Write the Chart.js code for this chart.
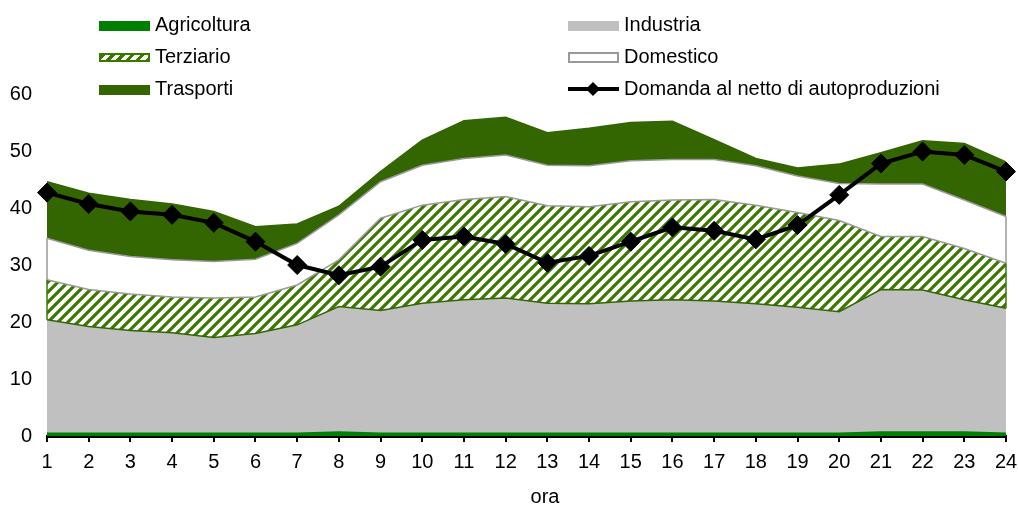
<!DOCTYPE html>
<html>
<head>
<meta charset="utf-8">
<script src="https://cdn.jsdelivr.net/npm/chart.js@4"></script>
<style>
  body { margin: 0; background: #fff; }
  #wrap { position: relative; width: 1018px; height: 506px; }
  #chart { position: absolute; left: 0; top: 0; }
  .leg { position: absolute; height: 20px; display: flex; align-items: center;
         font-family: "Liberation Sans", Arial, sans-serif; font-size: 20px; color: #000; white-space: nowrap; }
  .sw { width: 51px; height: 10px; margin-top: 3px; box-sizing: border-box; position: relative; }
  .leg span { margin-left: 5px; line-height: 20px; }
  #xtitle { position: absolute; left: 505px; width: 80px; top: 486px; text-align: center;
            font-family: "Liberation Sans", Arial, sans-serif; font-size: 20px; line-height: 20px; }
</style>
</head>
<body>
<div id="wrap">
  <canvas id="chart" width="1018" height="506"></canvas>
  <div id="legend"></div>
  <div id="xtitle">ora</div>
</div>
<script>
// hours of the day
const hours = ["1","2","3","4","5","6","7","8","9","10","11","12","13","14","15","16","17","18","19","20","21","22","23","24"];

// consumption by sector (stacked)
const agricoltura = [0.5,0.5,0.5,0.5,0.5,0.5,0.5,0.7,0.5,0.5,0.5,0.5,0.5,0.5,0.5,0.5,0.5,0.5,0.5,0.5,0.7,0.7,0.7,0.5];
const industria = [19.9,18.7,18.0,17.6,16.8,17.5,19.0,22.0,21.5,22.8,23.4,23.7,22.8,22.7,23.2,23.4,23.2,22.7,22.1,21.3,25.0,24.9,23.2,21.9];
const terziario = [7.0,6.5,6.4,6.3,6.9,6.4,7.0,8.2,16.2,17.2,17.6,17.8,17.1,17.0,17.4,17.5,17.8,17.3,16.6,16.0,9.3,9.4,9.0,7.9];
const domestico = [7.3,6.9,6.6,6.5,6.4,6.6,7.3,7.9,6.4,7.0,7.2,7.3,7.1,7.2,7.2,7.1,7.0,6.9,6.4,6.5,9.2,9.2,8.5,8.2];
const trasporti = [9.9,10.0,10.0,9.8,8.8,5.7,3.4,1.5,1.8,4.4,6.6,6.6,5.7,6.6,6.7,6.7,3.5,1.3,1.4,3.4,5.5,7.6,9.9,9.6];

// net demand line
const domanda = [42.7,40.7,39.4,38.8,37.4,34.1,30.0,28.2,29.7,34.4,35.0,33.7,30.4,31.6,34.1,36.6,36.0,34.5,37.0,42.3,47.8,49.9,49.3,46.4];

const yTicks = [0, 10, 20, 30, 40, 50, 60];

const GREEN = "#008000";
const DARK = "#336600";
const HATCH = "#3c7800";

// diagonal stripes for Terziario
function makeHatch() {
  const s = 10;
  const c = document.createElement("canvas");
  c.width = s; c.height = s;
  const g = c.getContext("2d");
  g.fillStyle = "#fff";
  g.fillRect(0, 0, s, s);
  g.strokeStyle = HATCH;
  g.lineWidth = 3.2;
  g.beginPath();
  g.moveTo(0, s); g.lineTo(s, 0);
  g.moveTo(-3, 3); g.lineTo(3, -3);
  g.moveTo(s - 3, s + 3); g.lineTo(s + 3, s - 3);
  g.stroke();
  return g.createPattern(c, "repeat");
}

// closes the Terziario / Domestico outlines at the first and last hour
const edgeLines = {
  id: "edgeLines",
  afterDatasetsDraw(chart) {
    const { ctx, scales: { x, y } } = chart;
    const last = hours.length - 1;
    [0, last].forEach(i => {
      const px = x.getPixelForValue(i);
      const ind = agricoltura[i] + industria[i];
      const ter = ind + terziario[i];
      const dom = ter + domestico[i];
      ctx.save();
      ctx.lineWidth = 1.5;
      ctx.strokeStyle = HATCH;
      ctx.beginPath();
      ctx.moveTo(px, y.getPixelForValue(ind));
      ctx.lineTo(px, y.getPixelForValue(ter));
      ctx.stroke();
      ctx.strokeStyle = "#999999";
      ctx.beginPath();
      ctx.moveTo(px, y.getPixelForValue(ter));
      ctx.lineTo(px, y.getPixelForValue(dom));
      ctx.stroke();
      ctx.restore();
    });
  }
};

Chart.defaults.font.family = '"Liberation Sans", Arial, sans-serif';
Chart.defaults.font.size = 20;
Chart.defaults.color = "#000";

const area = (label, data, bg, border, fill) => ({
  label, data, backgroundColor: bg, borderColor: border, borderWidth: 1.5,
  fill, pointRadius: 0, tension: 0, stack: "settori", order: 1
});

const ctx = document.getElementById("chart").getContext("2d");
const chart = new Chart(ctx, {
  type: "line",
  data: {
    labels: hours,
    datasets: [
      area("Agricoltura", agricoltura, GREEN, GREEN, "origin"),
      area("Industria", industria, "#c0c0c0", DARK, "-1"),
      area("Terziario", terziario, makeHatch(), "#999999", "-1"),
      area("Domestico", domestico, "#ffffff", "#999999", "-1"),
      area("Trasporti", trasporti, DARK, DARK, "-1"),
      {
        label: "Domanda al netto di autoproduzioni",
        data: domanda,
        borderColor: "#000",
        backgroundColor: "#000",
        borderWidth: 4,
        pointStyle: "rectRot",
        pointRadius: 9.5,
        pointBorderWidth: 1,
        fill: false,
        tension: 0,
        stack: "domanda",
        order: 0,
        clip: false
      }
    ]
  },
  options: {
    responsive: false,
    animation: false,
    layout: { padding: { top: 94, right: 12, bottom: 0, left: 0 } },
    plugins: { legend: { display: false }, tooltip: { enabled: false } },
    scales: {
      x: {
        grid: { display: true, drawOnChartArea: false, drawTicks: true, tickLength: 6, color: "#000", lineWidth: 2 },
        border: { display: true, color: "#000", width: 3 },
        ticks: { padding: 8, maxRotation: 0, autoSkip: false },
        afterFit: (scale) => {
          scale.height = 70;
          scale.paddingLeft = 0;
          scale.paddingRight = 0;
        }
      },
      y: {
        stacked: true,
        min: 0,
        max: 60,
        grid: { display: false, drawTicks: false },
        border: { display: false },
        ticks: { padding: 15 },
        afterBuildTicks: (scale) => { scale.ticks = yTicks.map(v => ({ value: v })); },
        afterFit: (scale) => { scale.width = 47; }
      }
    }
  },
  plugins: [edgeLines]
});

// legend laid out in two columns like the original
const legendPos = [
  { left: 99, top: 14 },   // Agricoltura
  { left: 568, top: 14 },  // Industria
  { left: 99, top: 46 },   // Terziario
  { left: 568, top: 46 },  // Domestico
  { left: 99, top: 78 },   // Trasporti
  { left: 568, top: 78 }   // Domanda
];
const swatchCss = [
  "background:" + GREEN,
  "background:#c0c0c0",
  "border:2px solid " + HATCH + ";background:repeating-linear-gradient(135deg," + HATCH + " 0 3px,#fff 3px 7px);height:9px",
  "border:2px solid #999;background:#fff;height:11px",
  "background:" + DARK,
  ""
];
const legend = document.getElementById("legend");
chart.data.datasets.forEach((ds, i) => {
  const item = document.createElement("div");
  item.className = "leg";
  item.style.left = legendPos[i].left + "px";
  item.style.top = legendPos[i].top + "px";
  const sw = document.createElement("div");
  sw.className = "sw";
  if (ds.pointStyle === "rectRot") {
    sw.style.cssText = "height:14px;margin-top:2px";
    sw.innerHTML = '<div style="position:absolute;left:0;right:0;top:5px;height:4px;background:#000"></div>' +
      '<div style="position:absolute;left:20px;top:2px;width:10px;height:10px;background:#000;transform:rotate(45deg)"></div>';
  } else {
    sw.style.cssText = swatchCss[i];
  }
  const txt = document.createElement("span");
  txt.textContent = ds.label;
  item.appendChild(sw);
  item.appendChild(txt);
  legend.appendChild(item);
});
</script>
</body>
</html>
